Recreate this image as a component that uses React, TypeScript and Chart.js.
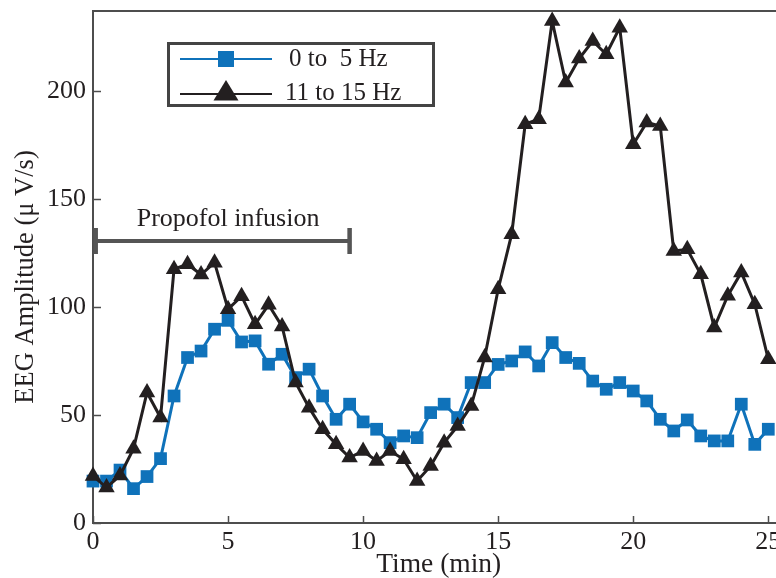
import React, { useEffect, useRef } from "react";
import { Chart, registerables } from "chart.js";

Chart.register(...registerables);

// ---- data (time in minutes, amplitude in µV/s) ----
const TIME = [
  0, 0.5, 1, 1.5, 2, 2.5, 3, 3.5, 4, 4.5, 5, 5.5, 6, 6.5, 7, 7.5, 8, 8.5, 9, 9.5,
  10, 10.5, 11, 11.5, 12, 12.5, 13, 13.5, 14, 14.5, 15, 15.5, 16, 16.5, 17, 17.5,
  18, 18.5, 19, 19.5, 20, 20.5, 21, 21.5, 22, 22.5, 23, 23.5, 24, 24.5, 25,
];

const BAND_0_5 = [
  19.4, 19.4, 24.5, 15.9, 21.5, 29.8, 58.8, 76.6, 79.6, 89.7, 93.8, 83.8, 84.3, 73.5,
  78.1, 67.3, 71.2, 58.8, 48.0, 55.0, 46.8, 43.4, 37.2, 40.3, 39.5, 51.1, 55.0, 48.8,
  65.0, 65.0, 73.4, 75.0, 79.2, 72.7, 83.5, 76.6, 73.9, 65.7, 61.9, 65.0, 61.1, 56.5,
  48.0, 42.6, 47.7, 40.3, 38.0, 38.0, 55.0, 36.4, 43.4,
];

const BAND_11_15 = [
  21.8, 16.4, 22.0, 34.4, 60.4, 48.8, 117.5, 119.8, 115.0, 120.5, 99.0, 105.0, 92.0,
  101.0, 91.0, 65.0, 53.4, 43.4, 36.4, 30.3, 33.3, 28.7, 33.3, 29.5, 19.4, 26.4, 37.2,
  44.9, 54.2, 76.6, 108.2, 133.7, 184.6, 186.9, 232.4, 203.9, 215.0, 223.1, 217.0,
  229.3, 175.3, 185.4, 183.8, 125.9, 126.7, 115.1, 90.5, 105.2, 116.0, 101.3, 75.8,
];

const SERIES_LABELS = ["0 to  5 Hz", "11 to 15 Hz"];
const X_TITLE = "Time (min)";
const Y_TITLE = "EEG Amplitude (\u03bc V/s)";

// propofol infusion bracket (data units)
const INFUSION_LABEL = "Propofol infusion";
const INFUSION_START = 0.1;
const INFUSION_END = 9.5;
const INFUSION_LEVEL = 130.5;
const INFUSION_CAP_LOW = 124.5;
const INFUSION_CAP_HIGH = 136.5;
const INFUSION_LABEL_X = 5;
const INFUSION_LABEL_Y = 137.4;

const X_MIN = 0;
const X_MAX = 25.6;
const Y_MIN = 0;
const Y_MAX = 237;

const BLUE = "#0f72ba";
const BLACK = "#231f20";
const AXIS = "#4d4d4d";
const TEXT = "#231f20";
const SERIF = '"Liberation Serif", "Times New Roman", serif';

const decorPlugin = {
  id: "decor",
  afterDraw(chart: any) {
    const { ctx, chartArea: ca, scales } = chart;
    const x = scales.x;
    const y = scales.y;
    ctx.save();

    // top border
    ctx.strokeStyle = AXIS;
    ctx.lineWidth = 2;
    ctx.beginPath();
    ctx.moveTo(ca.left, ca.top);
    ctx.lineTo(ca.right, ca.top);
    ctx.stroke();

    // inward ticks
    ctx.lineWidth = 1.5;
    y.ticks.forEach((t: any) => {
      const py = Math.round(y.getPixelForValue(t.value)) + 0.5;
      ctx.beginPath();
      ctx.moveTo(ca.left, py);
      ctx.lineTo(ca.left + 8, py);
      ctx.stroke();
    });
    x.ticks.forEach((t: any) => {
      const px = Math.round(x.getPixelForValue(t.value)) + 0.5;
      ctx.beginPath();
      ctx.moveTo(px, ca.bottom);
      ctx.lineTo(px, ca.bottom - 7);
      ctx.stroke();
    });

    // propofol infusion bracket
    const bx0 = x.getPixelForValue(INFUSION_START);
    const bx1 = x.getPixelForValue(INFUSION_END);
    const by = y.getPixelForValue(INFUSION_LEVEL);
    const cy0 = y.getPixelForValue(INFUSION_CAP_HIGH);
    const cy1 = y.getPixelForValue(INFUSION_CAP_LOW);
    ctx.strokeStyle = "#555555";
    ctx.lineWidth = 4;
    ctx.beginPath();
    ctx.moveTo(bx0, by);
    ctx.lineTo(bx1, by);
    ctx.stroke();
    ctx.lineWidth = 4.5;
    ctx.beginPath();
    ctx.moveTo(bx0, cy0);
    ctx.lineTo(bx0, cy1);
    ctx.moveTo(bx1, cy0);
    ctx.lineTo(bx1, cy1);
    ctx.stroke();

    ctx.fillStyle = TEXT;
    ctx.font = `26px ${SERIF}`;
    ctx.textAlign = "center";
    ctx.textBaseline = "alphabetic";
    ctx.fillText(
      INFUSION_LABEL,
      x.getPixelForValue(INFUSION_LABEL_X),
      y.getPixelForValue(INFUSION_LABEL_Y)
    );

    // legend
    const lx = 168.5, ly = 43.5, lw = 265, lh = 62;
    ctx.fillStyle = "#ffffff";
    ctx.fillRect(lx, ly, lw, lh);
    ctx.strokeStyle = "#444444";
    ctx.lineWidth = 3;
    ctx.strokeRect(lx, ly, lw, lh);

    // row 1: blue squares
    ctx.strokeStyle = BLUE;
    ctx.lineWidth = 2;
    ctx.beginPath();
    ctx.moveTo(180, 59);
    ctx.lineTo(272, 59);
    ctx.stroke();
    ctx.fillStyle = BLUE;
    ctx.fillRect(218, 51, 16, 16);

    // row 2: black triangles
    ctx.strokeStyle = BLACK;
    ctx.beginPath();
    ctx.moveTo(180, 94);
    ctx.lineTo(272, 94);
    ctx.stroke();
    ctx.fillStyle = BLACK;
    ctx.beginPath();
    ctx.moveTo(226, 80);
    ctx.lineTo(238.5, 100.5);
    ctx.lineTo(213.5, 100.5);
    ctx.closePath();
    ctx.fill();

    ctx.fillStyle = TEXT;
    ctx.font = `25px ${SERIF}`;
    ctx.textAlign = "left";
    ctx.fillText(SERIES_LABELS[0], 289, 66);
    ctx.fillText(SERIES_LABELS[1], 285, 100);

    // axis titles
    ctx.font = `27.5px ${SERIF}`;
    ctx.textAlign = "center";
    ctx.fillText(X_TITLE, (ca.left + ca.right) / 2, 572);

    ctx.font = `26.5px ${SERIF}`;
    ctx.translate(32.5, 277);
    ctx.rotate(-Math.PI / 2);
    ctx.fillText(Y_TITLE, 0, 0);

    ctx.restore();
  },
};

export default function App() {
  const canvasRef = useRef<HTMLCanvasElement | null>(null);

  useEffect(() => {
    const canvas = canvasRef.current;
    if (!canvas) return;
    const tickFont = { family: SERIF, size: 26 };
    const chart = new Chart(canvas, {
      type: "line",
      data: {
        datasets: [
          {
            label: SERIES_LABELS[1],
            data: TIME.map((t, i) => ({ x: t, y: BAND_11_15[i] })),
            borderColor: BLACK,
            backgroundColor: BLACK,
            borderWidth: 3,
            pointStyle: "triangle",
            pointRadius: 9.5,
            pointBorderWidth: 0,
            pointBackgroundColor: BLACK,
            tension: 0,
            clip: false,
            order: 0,
          },
          {
            label: SERIES_LABELS[0],
            data: TIME.map((t, i) => ({ x: t, y: BAND_0_5[i] })),
            borderColor: BLUE,
            backgroundColor: BLUE,
            borderWidth: 3,
            pointStyle: "rect",
            pointRadius: 9,
            pointBorderWidth: 0,
            pointBackgroundColor: BLUE,
            tension: 0,
            clip: false,
            order: 1,
          },
        ],
      },
      options: {
        responsive: false,
        animation: false,
        devicePixelRatio: 1,
        layout: { padding: { top: 11, left: 0, right: 0, bottom: 0 } },
        plugins: {
          legend: { display: false },
          tooltip: { enabled: false },
        },
        scales: {
          x: {
            type: "linear",
            min: X_MIN,
            max: X_MAX,
            grid: { display: true, drawOnChartArea: false, drawTicks: false },
            border: { display: true, color: AXIS, width: 2 },
            ticks: {
              stepSize: 5,
              includeBounds: false,
              padding: 4,
              maxRotation: 0,
              autoSkip: false,
              color: TEXT,
              font: tickFont,
            },
            afterFit: (s: any) => {
              s.height = 55;
              s.paddingLeft = 0;
              s.paddingRight = 0;
              s.paddingTop = 0;
              s.paddingBottom = 0;
            },
          },
          y: {
            type: "linear",
            min: Y_MIN,
            max: Y_MAX,
            grid: { display: true, drawOnChartArea: false, drawTicks: false },
            border: { display: true, color: AXIS, width: 2 },
            ticks: {
              stepSize: 50,
              includeBounds: false,
              padding: 7,
              color: TEXT,
              font: tickFont,
            },
            afterFit: (s: any) => {
              s.width = 93;
              s.paddingLeft = 0;
              s.paddingRight = 0;
              s.paddingTop = 0;
              s.paddingBottom = 0;
            },
          },
        },
      },
      plugins: [decorPlugin],
    } as any);
    return () => chart.destroy();
  }, []);

  return (
    <div
      style={{
        position: "fixed",
        left: 0,
        top: 0,
        width: 776,
        height: 578,
        overflow: "hidden",
        background: "#ffffff",
      }}
    >
      <canvas ref={canvasRef} width={794} height={578} style={{ display: "block" }} />
    </div>
  );
}
